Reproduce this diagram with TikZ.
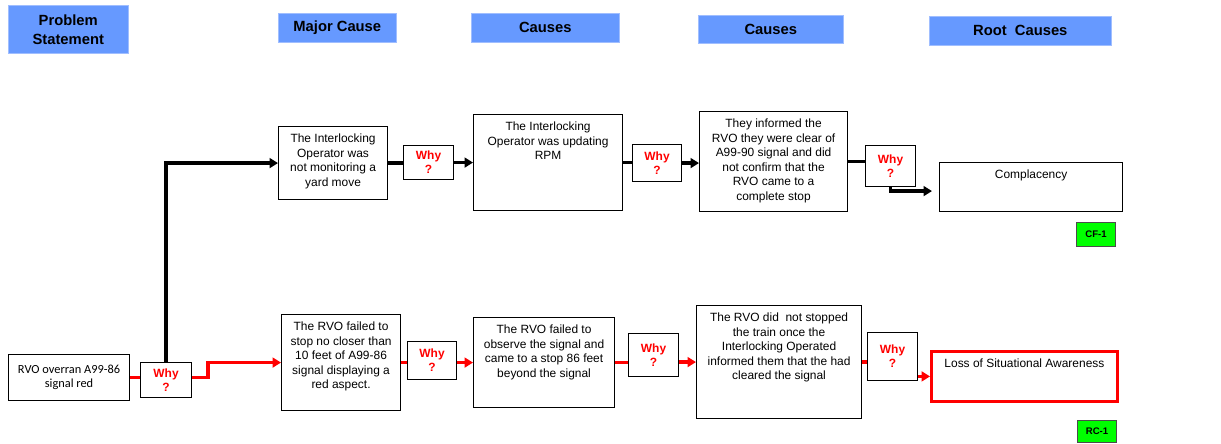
\documentclass[tikz,border=0pt]{standalone}
\usepackage{fontspec}
\setmainfont{Liberation Sans}
\newfontfamily\calibfont{Carlito}
\usepackage{tikz}
\usetikzlibrary{arrows.meta, positioning, calc}
\usepackage{xcolor}
\definecolor{headblue}{RGB}{102,153,255}
\definecolor{headedge}{RGB}{160,190,255}
\definecolor{whyred}{RGB}{255,0,0}
\definecolor{taggreen}{RGB}{0,255,0}
\newdimen\pxu \pxu=0.025cm
\newcommand{\boxtxt}[3]{\parbox[c][#2\pxu][t]{#1\pxu}{\centering\vspace*{5.5pt}#3}}
\tikzstyle{head}     = [rectangle, draw=headedge, fill=headblue, anchor=north west, inner sep=0pt,
                        align=center, font=\bfseries\fontsize{10.5}{13.5}\selectfont]
\tikzstyle{cause}    = [rectangle, draw=black, line width=0.8pt, anchor=north west, inner sep=0pt,
                        font=\fontsize{8.5}{10.3}\selectfont]
\tikzstyle{why}      = [rectangle, draw=black, line width=0.8pt, anchor=north west, inner sep=0pt,
                        align=center, text=whyred, font=\bfseries\fontsize{8.5}{10}\selectfont]
\tikzstyle{tag}      = [rectangle, draw=black!70, line width=0.8pt, fill=taggreen, anchor=north west,
                        inner sep=0pt, font=\bfseries\fontsize{6.8}{8}\selectfont]
\tikzstyle{link}     = [line width=2.6pt]
\tikzstyle{arrow}    = [line width=2.6pt, -{Triangle[length=6pt,width=7pt]}]

\begin{document}
\begin{tikzpicture}[x=0.025cm, y=-0.025cm]
  \useasboundingbox[fill=white] (0,0) rectangle (1221,443);

  % column heads
  \node (ps)  [head, minimum width=120*\pxu, minimum height=48*\pxu] at (8,5)    {Problem\\Statement};
  \node (mc)  [head, minimum width=118*\pxu, minimum height=29*\pxu] at (278,13) {Major Cause};
  \node (ca1) [head, minimum width=148*\pxu, minimum height=29*\pxu] at (471,13) {Causes};
  \node (ca2) [head, minimum width=145*\pxu, minimum height=28*\pxu] at (698,15) {Causes};
  \node (rc)  [head, minimum width=182*\pxu, minimum height=29*\pxu] at (929,16) {Root~~Causes};

  % problem statement
  \node (rvo)  [cause, minimum width=121*\pxu, minimum height=46*\pxu, align=center,
                font=\calibfont\fontsize{8.8}{10}\selectfont] at (8,354) {RVO overran A99-86\\signal red};
  \node (why0) [why, minimum width=51*\pxu, minimum height=35*\pxu] at (140,362) {Why\\?};

  % upper chain
  \node (c1) [cause] at (278,126) {\boxtxt{109}{73}{The Interlocking\\Operator was\\not monitoring a\\yard move}};
  \node (w1) [why, minimum width=50*\pxu, minimum height=34*\pxu] at (403,145) {Why\\?};
  \node (c2) [cause] at (473,114) {\boxtxt{149}{96}{The Interlocking\\Operator was updating\\RPM}};
  \node (w2) [why, minimum width=49*\pxu, minimum height=37*\pxu] at (632,144) {Why\\?};
  \node (c3) [cause] at (699,111) {\boxtxt{148}{100}{They informed the\\RVO they were clear of\\A99-90 signal and did\\not confirm that the\\RVO came to a\\complete stop}};
  \node (w3) [why, minimum width=50*\pxu, minimum height=41*\pxu] at (865,145) {Why\\?};
  \node (cp) [cause] at (939,162) {\boxtxt{183}{49}{Complacency}};
  \node (cf) [tag, minimum width=39*\pxu, minimum height=24*\pxu] at (1076,222) {CF-1};

  % lower chain
  \node (r1)  [cause] at (281,314) {\boxtxt{119}{96}{The RVO failed to\\stop no closer than\\10 feet of A99-86\\signal displaying a\\red aspect.}};
  \node (rw1) [why, minimum width=49*\pxu, minimum height=38*\pxu] at (407,341) {Why\\?};
  \node (r2)  [cause] at (473,317) {\boxtxt{141}{90}{The RVO failed to\\observe the signal and\\came to a stop 86 feet\\beyond the signal}};
  \node (rw2) [why, minimum width=50*\pxu, minimum height=43*\pxu] at (628,333) {Why\\?};
  \node (r3)  [cause] at (696,305) {\boxtxt{165}{113}{The RVO did\ \ not stopped\\the train once the\\Interlocking Operated\\informed them that the had\\cleared the signal}};
  \node (rw3) [why, minimum width=50*\pxu, minimum height=48*\pxu] at (867,332) {Why\\?};
  \node (loss) [cause, draw=whyred, line width=2pt] at (930,350) {\boxtxt{186}{50}{Loss of Situational Awareness}};
  \node (rcl) [tag, minimum width=39*\pxu, minimum height=22*\pxu] at (1077,420) {RC-1};

  % upper connectors
  \draw[arrow] (why0.north) |- (c1.west);
  \draw[link]  (c1.east) -- (c1.east -| w1.west);
  \draw[arrow] (w1.east) -- (w1.east -| c2.west);
  \draw[link]  (c2.east) -- (c2.east -| w2.west);
  \draw[arrow] (w2.east) -- (w2.east -| c3.west);
  \draw[link]  (c3.east) -- (c3.east -| w3.west);
  \draw[arrow, shorten >=7\pxu] (w3.south) |- ($(cp.west)+(0,4)$);

  % lower connectors
  \draw[link, whyred]  (rvo.east) -- (rvo.east -| why0.west);
  \draw[arrow, whyred] (why0.east |- rvo.east) -- ++(16,0) |- (r1.west);
  \draw[link, whyred]  (r1.east) -- (r1.east -| rw1.west);
  \draw[arrow, whyred] (rw1.east |- r2.west) -- (r2.west);
  \draw[link, whyred]  (r2.east) -- (r2.east -| rw2.west);
  \draw[arrow, whyred] (rw2.east |- r3.west) -- (r3.west);
  \draw[link, whyred]  (r3.east) -- (r3.east -| rw3.west);
  \draw[arrow, whyred] (rw3.east |- loss.west) -- (loss.west);
\end{tikzpicture}
\end{document}
